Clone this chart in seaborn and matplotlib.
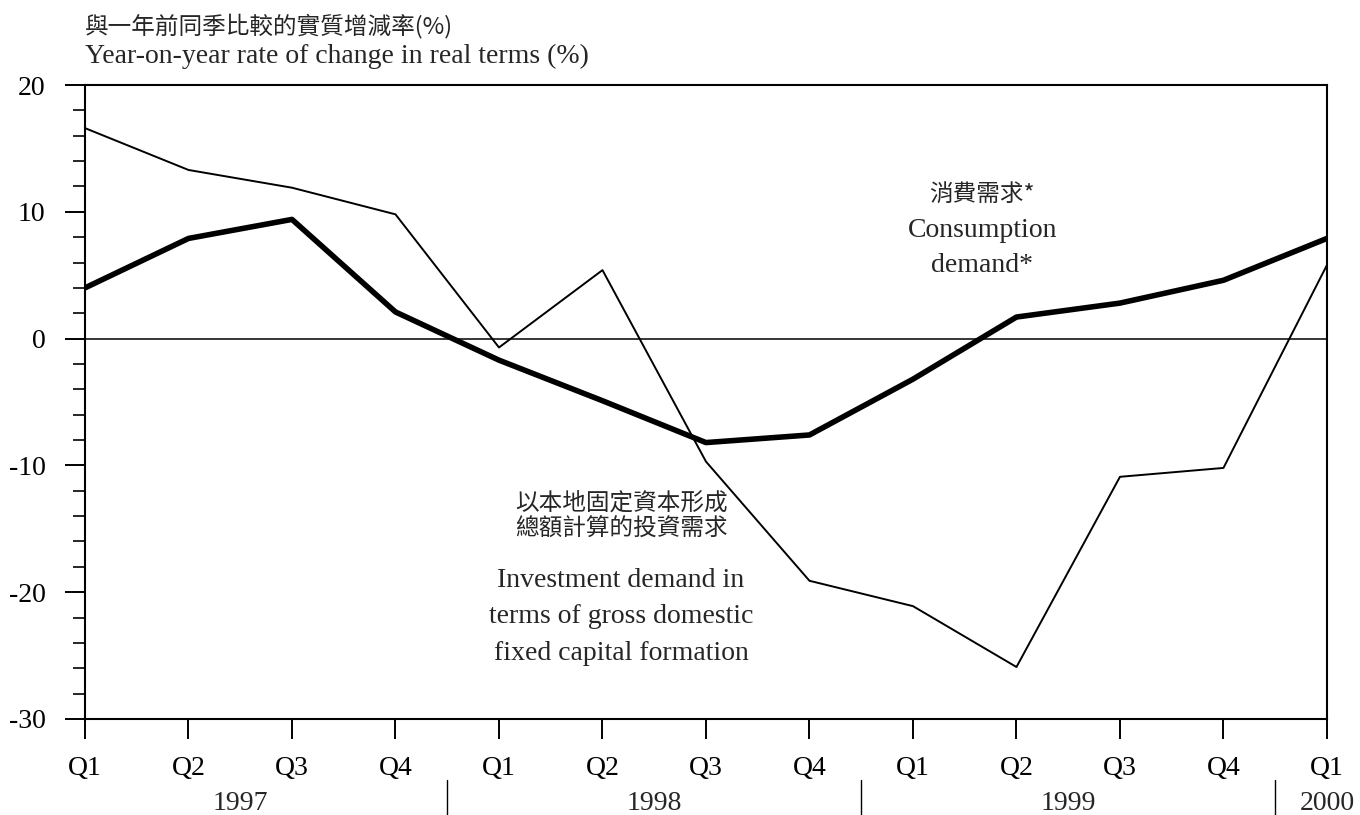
import numpy as np
import pandas as pd
import matplotlib
matplotlib.use("Agg")
import matplotlib.pyplot as plt
import seaborn as sns
from matplotlib.ticker import MultipleLocator
import matplotlib.transforms as mtransforms

quarters = ["Q1", "Q2", "Q3", "Q4", "Q1", "Q2", "Q3", "Q4", "Q1", "Q2", "Q3", "Q4", "Q1"]
years = ["1997", "1998", "1999", "2000"]
consumption = [4.0, 7.9, 9.4, 2.1, -1.7, -4.9, -8.2, -7.6, -3.2, 1.7, 2.8, 4.6, 7.9]
investment = [16.6, 13.3, 11.9, 9.8, -0.7, 5.4, -9.7, -19.1, -21.1, -25.9, -10.9, -10.2, 5.8]

df = pd.DataFrame({"idx": np.arange(len(quarters)),
                   "consumption": consumption,
                   "investment": investment})

sns.set_style("ticks")
plt.rcParams["font.family"] = ["Liberation Serif", "Noto Sans CJK TC"]
plt.rcParams["axes.unicode_minus"] = False
cjk = ["Noto Sans CJK TC", "Liberation Serif"]

fig = plt.figure(figsize=(13.6, 8.15), dpi=100)
ax = fig.add_axes([0.0625, 0.1178, 0.9132, 0.7779])

sns.lineplot(data=df, x="idx", y="investment", color="black", linewidth=1.4, ax=ax)
sns.lineplot(data=df, x="idx", y="consumption", color="black", linewidth=4.0, ax=ax)
ax.axhline(0, color="black", linewidth=1.1)

ax.set_xlim(0, len(quarters) - 1)
ax.set_ylim(-30, 20)
ax.set_xticks(df["idx"])
ax.set_xticklabels(quarters)
ax.yaxis.set_major_locator(MultipleLocator(10))
ax.yaxis.set_minor_locator(MultipleLocator(2))
ax.tick_params(axis="both", which="major", direction="out", length=14.5, width=1.4,
               labelsize=20, color="black", labelcolor="black")
ax.tick_params(axis="x", which="major", pad=12)
ax.tick_params(axis="y", which="major", pad=14)
ax.tick_params(axis="y", which="minor", direction="out", length=8.5, width=1.4)
ax.set_xlabel("")
ax.set_ylabel("")
for s in ax.spines.values():
    s.set_visible(True)
    s.set_linewidth(1.5)
    s.set_color("black")

# year labels and separators under the quarter ticks
trans = mtransforms.blended_transform_factory(ax.transData, ax.transAxes)
year_centers = [1.5, 5.5, 9.5, 12]
for yr, xc in zip(years, year_centers):
    ax.text(xc, -0.133, yr, transform=trans, ha="center", va="center", fontsize=20)
for xs in [3.5, 7.5, 11.5]:
    ax.plot([xs, xs], [-0.096, -0.152], transform=trans, color="black",
            linewidth=1.0, clip_on=False)

# axis title
fig.text(0.0625, 0.9595, "與一年前同季比較的實質增減率(%)", fontsize=17, family=cjk,
         ha="left", va="baseline")
fig.text(0.0625, 0.9227, "Year-on-year rate of change in real terms (%)", fontsize=20,
         ha="left", va="baseline")

# series annotations
ax.text(8.67, 11.3, "消費需求*", fontsize=17, family=cjk, ha="center", va="center")
ax.text(8.67, 8.5, "Consumption", fontsize=20, ha="center", va="center")
ax.text(8.67, 5.75, "demand*", fontsize=20, ha="center", va="center")

ax.text(5.18, -13.0, "以本地固定資本形成", fontsize=17, family=cjk, ha="center", va="center")
ax.text(5.18, -15.0, "總額計算的投資需求", fontsize=17, family=cjk, ha="center", va="center")
ax.text(5.18, -19.1, "Investment demand in", fontsize=20, ha="center", va="center")
ax.text(5.18, -21.9, "terms of gross domestic", fontsize=20, ha="center", va="center")
ax.text(5.18, -24.8, "fixed capital formation", fontsize=20, ha="center", va="center")

fig.savefig("out.png", dpi=100)
